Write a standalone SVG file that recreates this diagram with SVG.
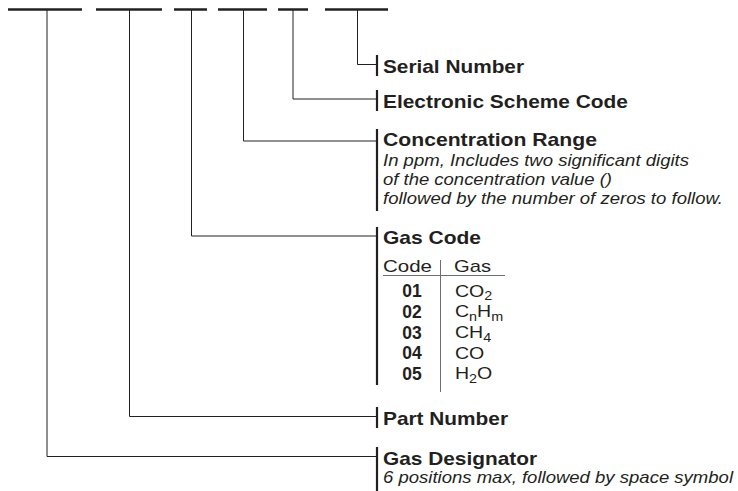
<svg xmlns="http://www.w3.org/2000/svg" width="738" height="491" viewBox="0 0 738 491">
<style>
.bg{fill:#fff}
.seg{stroke:#231f20;stroke-width:2.5;fill:none}
.con{stroke:#231f20;stroke-width:1;fill:none}
.brk{stroke:#231f20;stroke-width:2.2;fill:none}
.thin{stroke:#6d6e71;stroke-width:1;fill:none}
.t{font-family:"Liberation Sans",Arial,sans-serif;font-weight:bold;font-size:18.5px;fill:#231f20}
.d{font-family:"Liberation Sans",Arial,sans-serif;font-style:italic;font-size:17px;fill:#231f20}
.r{font-family:"Liberation Sans",Arial,sans-serif;font-size:17px;fill:#231f20}
.s{font-size:12.5px}
.b{font-family:"Liberation Sans",Arial,sans-serif;font-weight:bold;font-size:17.5px;fill:#231f20;text-anchor:middle}
</style>
<rect class="bg" x="0" y="0" width="738" height="491"/>
<g id="code-fields">
<line class="seg" x1="8" y1="9.5" x2="82" y2="9.5"/>
<line class="seg" x1="96" y1="9.5" x2="162" y2="9.5"/>
<line class="seg" x1="174" y1="9.5" x2="207" y2="9.5"/>
<line class="seg" x1="218" y1="9.5" x2="267" y2="9.5"/>
<line class="seg" x1="278" y1="9.5" x2="308" y2="9.5"/>
<line class="seg" x1="325" y1="9.5" x2="388" y2="9.5"/>
</g>
<g id="connectors">
<polyline class="con" points="357.5,10 357.5,64.5 376,64.5"/>
<polyline class="con" points="293,10 293,99 376,99"/>
<polyline class="con" points="243.5,10 243.5,141 376,141"/>
<polyline class="con" points="191.5,10 191.5,236 376,236"/>
<polyline class="con" points="129.5,10 129.5,416.5 376,416.5"/>
<polyline class="con" points="47,10 47,456.5 376,456.5"/>
</g>
<g id="serial-number">
<line class="brk" x1="377" y1="55" x2="377" y2="76"/>
<text class="t" x="383" y="73" textLength="141" lengthAdjust="spacingAndGlyphs">Serial Number</text>
</g>
<g id="electronic-scheme-code">
<line class="brk" x1="377" y1="90" x2="377" y2="111"/>
<text class="t" x="383" y="108" textLength="245" lengthAdjust="spacingAndGlyphs">Electronic Scheme Code</text>
</g>
<g id="concentration-range">
<line class="brk" x1="377" y1="129" x2="377" y2="211"/>
<text class="t" x="383" y="146" textLength="214" lengthAdjust="spacingAndGlyphs">Concentration Range</text>
<text class="d" x="383" y="166" textLength="306" lengthAdjust="spacingAndGlyphs">In ppm, Includes two significant digits</text>
<text class="d" x="383" y="185" textLength="229" lengthAdjust="spacingAndGlyphs">of the concentration value ()</text>
<text class="d" x="383" y="204" textLength="340" lengthAdjust="spacingAndGlyphs">followed by the number of zeros to follow.</text>
</g>
<g id="gas-code">
<line class="brk" x1="377" y1="227" x2="377" y2="385"/>
<text class="t" x="383" y="244" textLength="98" lengthAdjust="spacingAndGlyphs">Gas Code</text>
<text class="r" x="383" y="272" textLength="49" lengthAdjust="spacingAndGlyphs">Code</text>
<text class="r" x="454" y="272" textLength="37" lengthAdjust="spacingAndGlyphs">Gas</text>
<line class="thin" x1="383" y1="275.5" x2="505" y2="275.5"/>
<line class="thin" x1="440.5" y1="260" x2="440.5" y2="392"/>
<text class="b" x="412" y="297">01</text>
<text class="b" x="412" y="318">02</text>
<text class="b" x="412" y="338.5">03</text>
<text class="b" x="412" y="359">04</text>
<text class="b" x="412" y="379.5">05</text>
<g transform="translate(455,0) scale(1.15,1)">
<text class="r" x="0" y="297">CO<tspan class="s" dy="3.5">2</tspan></text>
<text class="r" x="0" y="317.5">C<tspan class="s" dy="3.5">n</tspan><tspan dy="-3.5">H</tspan><tspan class="s" dy="3.5">m</tspan></text>
<text class="r" x="0" y="338.5">CH<tspan class="s" dy="3.5">4</tspan></text>
<text class="r" x="0" y="359">CO</text>
<text class="r" x="0" y="379.5">H<tspan class="s" dy="3.5">2</tspan><tspan dy="-3.5">O</tspan></text>
</g>
</g>
<g id="part-number">
<line class="brk" x1="377" y1="407" x2="377" y2="428"/>
<text class="t" x="383" y="425" textLength="125" lengthAdjust="spacingAndGlyphs">Part Number</text>
</g>
<g id="gas-designator">
<line class="brk" x1="377" y1="447" x2="377" y2="491"/>
<text class="t" x="383" y="465" textLength="154" lengthAdjust="spacingAndGlyphs">Gas Designator</text>
<text class="d" x="383" y="483" textLength="350" lengthAdjust="spacingAndGlyphs">6 positions max, followed by space symbol</text>
</g>
</svg>
